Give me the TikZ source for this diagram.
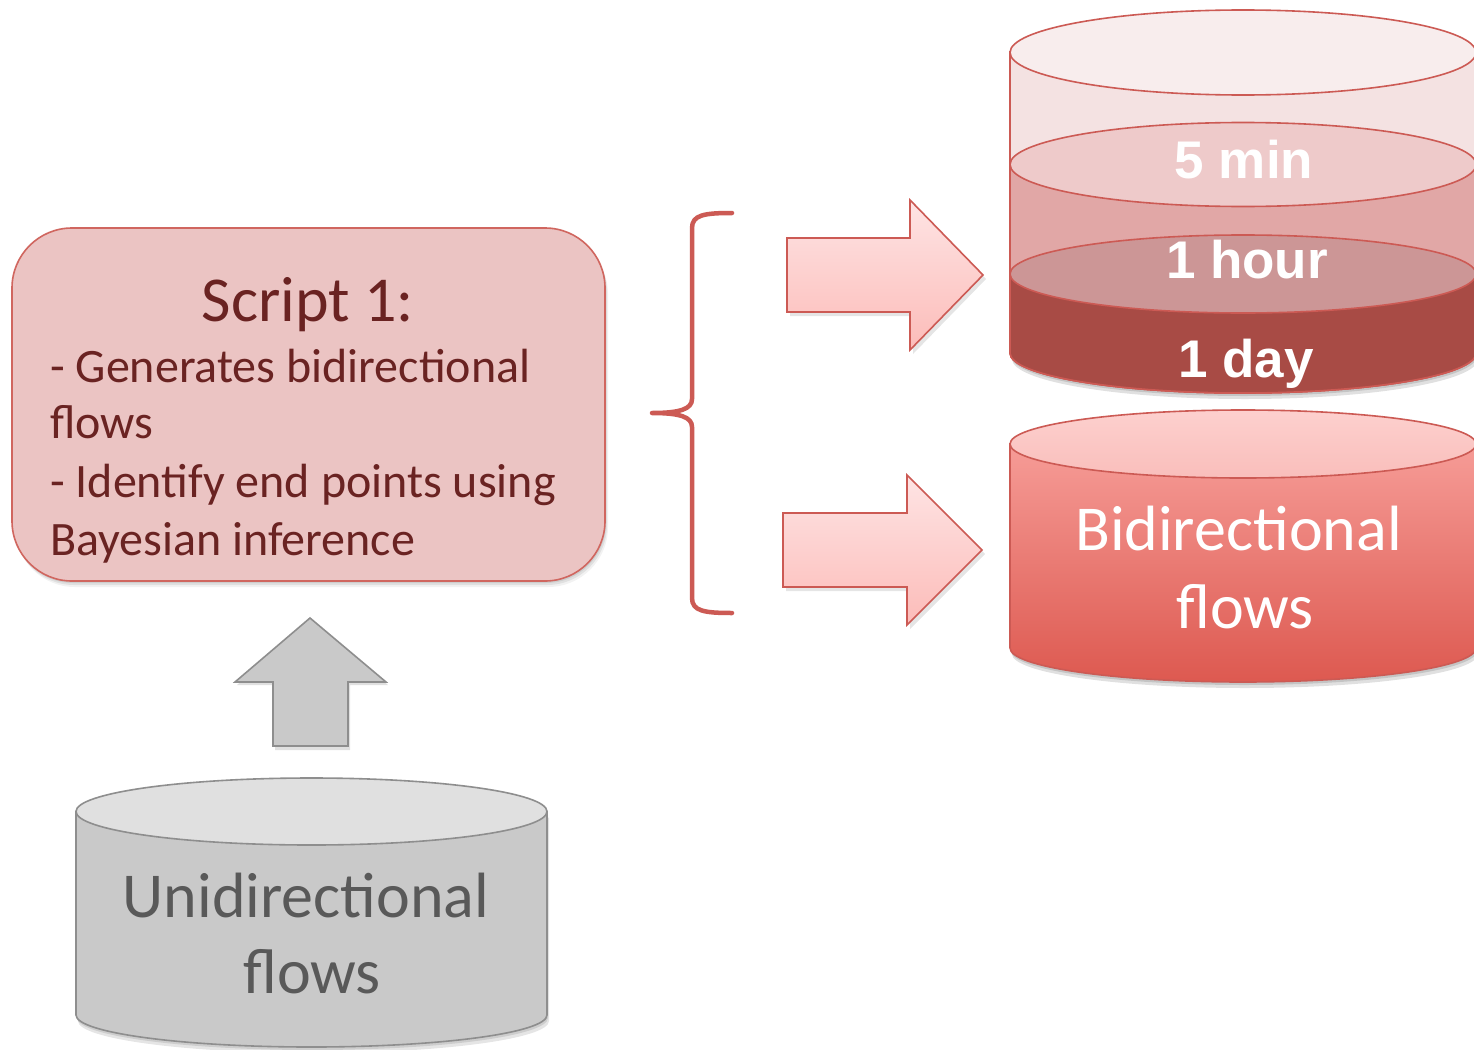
\documentclass[tikz,border=0pt]{standalone}
\usepackage{fontspec}
\setmainfont{Carlito}
\newfontfamily\labelfont{Liberation Sans}
\usetikzlibrary{calc}

\definecolor{boxfill}{HTML}{EBC4C3}
\definecolor{boxline}{HTML}{D0665F}
\definecolor{boxtext}{HTML}{6A2322}
\definecolor{redline}{HTML}{CC5A54}
\definecolor{glasstop}{HTML}{F8EDED}
\definecolor{glassside}{HTML}{F4E2E2}
\definecolor{lvlonetop}{HTML}{EECACA}
\definecolor{lvloneside}{HTML}{E1A7A6}
\definecolor{lvltwotop}{HTML}{CC9696}
\definecolor{lvltwoside}{HTML}{A84B45}
\definecolor{biditopA}{HTML}{FDD0CE}
\definecolor{biditopB}{HTML}{F9BEBB}
\definecolor{bidisideA}{HTML}{F69C97}
\definecolor{bidisideB}{HTML}{DD5950}
\definecolor{arrowA}{HTML}{FEE4E4}
\definecolor{arrowB}{HTML}{FCBCB9}
\definecolor{grayside}{HTML}{C9C9C9}
\definecolor{graytop}{HTML}{E0E0E0}
\definecolor{grayline}{HTML}{8E8E8E}
\definecolor{graytext}{HTML}{595959}

% cylinder body: left x, right x, top y, bottom y, bottom radius y
\newcommand\cylbody[5]{(#1,#3) -- (#1,#4) arc[start angle=180,end angle=360,x radius={(#2-#1)/2*1pt},y radius=#5pt] -- (#2,#3) -- cycle}

\tikzset{
  redstroke/.style={draw=redline, line width=1.6pt},
  graystroke/.style={draw=grayline, line width=1.6pt},
  blockarrow/.style={draw=redline, line width=1.6pt, top color=arrowA, bottom color=arrowB, line join=miter},
  boxtextstyle/.style={text=boxtext, inner sep=0pt, anchor=base west, font=\fontsize{48}{58}\selectfont},
  levellabel/.style={text=white, inner sep=0pt, anchor=base, font=\labelfont\bfseries\fontsize{53}{60}\selectfont},
  cyllabel/.style={inner sep=0pt, anchor=base, font=\fontsize{64}{76}\selectfont},
}

\begin{document}
\begin{tikzpicture}[x=1pt,y=1pt]
\useasboundingbox (0,0) rectangle (1474,-1049);
\clip (0,0) rectangle (1474,-1049);
\fill[white] (0,0) rectangle (1474,-1049);

% ---------- Script box ----------
\foreach \d/\o in {6/0.05,4/0.07,2/0.08}{
  \fill[black, fill opacity=\o, rounded corners=60pt] (12+\d*0.5,-228-\d) rectangle (605+\d*0.5,-581-\d);
}
\draw[boxline, line width=1.6pt, fill=boxfill, rounded corners=60pt] (12,-228) rectangle (605,-581);
\node[text=boxtext, inner sep=0pt, anchor=base, font=\fontsize{64}{70}\selectfont] (title) at (308,-321) {Script 1:};
\node[boxtextstyle] (lineA) at (50,-382) {- Generates bidirectional};
\node[boxtextstyle] (lineB) at (50,-438) {flows};
\node[boxtextstyle] (lineC) at (50,-497) {- Identify end points using};
\node[boxtextstyle] (lineD) at (50,-555) {Bayesian inference};

% ---------- Up arrow ----------
\fill[black, fill opacity=0.12] (312,-621) -- (388,-685) -- (350,-685) -- (350,-750) -- (275,-750) -- (275,-685) -- (237,-685) -- cycle;
\draw[graystroke, fill=grayside, line join=miter] (310,-618) -- (386,-682) -- (348,-682) -- (348,-746) -- (273,-746) -- (273,-682) -- (235,-682) -- cycle;

% ---------- Unidirectional cylinder ----------
\begin{scope}[shift={(2,-6)}]
  \fill[black, fill opacity=0.10] \cylbody{76}{547}{-811.5}{-1015}{32};
\end{scope}
\begin{scope}[shift={(1,-3)}]
  \fill[black, fill opacity=0.10] \cylbody{76}{547}{-811.5}{-1015}{32};
\end{scope}
\path[graystroke, fill=grayside] \cylbody{76}{547}{-811.5}{-1015}{32};
\draw[graystroke, fill=graytop] (311.5,-811.5) ellipse[x radius=235.5pt, y radius=33.5pt];
\node[cyllabel, text=graytext] (uniA) at (306,-917) {Unidirectional};
\node[cyllabel, text=graytext] (uniB) at (312,-993) {flows};

% ---------- Brace ----------
\draw[redline, line width=4.5pt, line cap=round, line join=round]
  (732,-213) .. controls (704,-213) and (692,-215) .. (692,-228)
  -- (692,-399) .. controls (692,-409) and (680,-413) .. (652,-413)
  .. controls (680,-413) and (692,-417) .. (692,-427)
  -- (692,-598) .. controls (692,-611) and (704,-613) .. (732,-613);

% ---------- Block arrows ----------
\fill[black, fill opacity=0.10] (790,-242) -- (913,-242) -- (913,-204) -- (986,-279) -- (913,-354) -- (913,-316) -- (790,-316) -- cycle;
\path[blockarrow] (787,-238) -- (910,-238) -- (910,-200) -- (983,-275) -- (910,-350) -- (910,-312) -- (787,-312) -- cycle;
\fill[black, fill opacity=0.10] (786,-517) -- (910,-517) -- (910,-479) -- (985,-554) -- (910,-629) -- (910,-591) -- (786,-591) -- cycle;
\path[blockarrow] (783,-513) -- (907,-513) -- (907,-475) -- (982,-550) -- (907,-625) -- (907,-587) -- (783,-587) -- cycle;

% ---------- Layered cylinder ----------
\begin{scope}[shift={(2,-6)}]
  \fill[black, fill opacity=0.12] \cylbody{1010}{1476}{-52}{-353}{40};
\end{scope}
\begin{scope}[shift={(1,-3)}]
  \fill[black, fill opacity=0.12] \cylbody{1010}{1476}{-52}{-353}{40};
\end{scope}
\path[redstroke, fill=glassside] \cylbody{1010}{1476}{-52}{-353}{40};
\path[redstroke, fill=lvloneside] \cylbody{1010}{1476}{-164.5}{-353}{40};
\draw[redstroke, fill=lvlonetop] (1243,-164.5) ellipse[x radius=233pt, y radius=42pt];
\path[redstroke, fill=lvltwoside] \cylbody{1010}{1476}{-274}{-353}{40};
\draw[redstroke, fill=lvltwotop] (1243,-274) ellipse[x radius=233pt, y radius=39pt];
\draw[redstroke, fill=glasstop] (1243,-52.5) ellipse[x radius=233pt, y radius=42.5pt];
\node[levellabel] (fivemin) at (1244,-178) {5 min};
\node[levellabel] (onehour) at (1247,-278) {1 hour};
\node[levellabel] (oneday) at (1246,-377) {1 day};

% ---------- Bidirectional cylinder ----------
\begin{scope}[shift={(2,-6)}]
  \fill[black, fill opacity=0.12] \cylbody{1010}{1476}{-444}{-648}{34};
\end{scope}
\begin{scope}[shift={(1,-3)}]
  \fill[black, fill opacity=0.12] \cylbody{1010}{1476}{-444}{-648}{34};
\end{scope}
\path[redstroke, top color=bidisideA, bottom color=bidisideB] \cylbody{1010}{1476}{-444}{-648}{34};
\draw[redstroke, top color=biditopA, bottom color=biditopB] (1243,-444) ellipse[x radius=233pt, y radius=34pt];
\node[cyllabel, text=white] (bidiA) at (1238.5,-550) {Bidirectional};
\node[cyllabel, text=white] (bidiB) at (1245,-628) {flows};
\end{tikzpicture}
\end{document}
